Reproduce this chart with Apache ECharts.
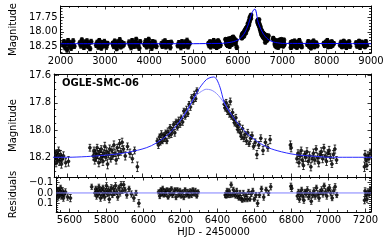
<!DOCTYPE html>
<html><head><meta charset="utf-8">
<script src="https://cdn.jsdelivr.net/npm/echarts@6/dist/echarts.min.js"></script>
<style>html,body{margin:0;padding:0;background:#fff}#c{width:389px;height:241px}</style>
</head><body><div id="c"></div>
<script>
// ---------- zoomed light curve (HJD-2450000, mag, err, residual) ----------
const midT = [
 5531,5535,5538,5541,5545,5548,5552,5556,5560,5563,5567,5571,5578,5590,5605,
 5720,5738,5742,5746,5750,5755,5759,5763,5768,5772,5777,5781,5786,5790,5795,5800,5805,5810,5815,5820,5826,5832,5838,5843,5849,5855,5861,5867,5873,5879,5886,5893,5900,5910,5922,5935,5948,5960,5975,
 6082,6088,6094,6099,6104,6110,6116,6121,6127,6133,6139,6145,6151,6157,6163,6170,6176,6183,6190,6197,6204,6211,6218,6225,6232,6239,6246,6253,6260,6267,6274,6281,6288,6295,
 6442,6447,6452,6458,6463,6469,6474,6480,6486,6492,6498,6504,6510,6516,6522,6528,6534,6540,6547,6554,6561,6568,6575,6583,6591,6599,6608,6617,6627,6638,6650,6663,6676,6688,
 6797,6801,
 6832,6838,6843,6849,6855,6861,6867,6873,6879,6886,6893,6900,6907,6914,6921,6928,6935,6942,6949,6956,6963,6970,6977,6984,6991,6998,7005,7012,7020,7028,7036,7045,
 7195,7198,7203,7208,7213,7219,7226
];
const midM = [
 18.21,18.18,18.24,18.17,18.22,18.19,18.15,18.23,18.20,18.18,18.25,18.21,18.19,18.24,18.23,
 18.13,18.19,18.15,18.22,18.17,18.20,18.13,18.18,18.24,18.16,18.21,18.14,18.19,18.23,18.17,18.12,18.20,18.16,18.25,18.18,18.14,18.21,18.15,18.19,18.11,18.17,18.22,18.13,18.18,18.10,18.16,18.09,18.14,18.19,18.12,18.17,18.21,18.15,18.27,
 18.08,18.11,18.05,18.09,18.03,18.08,18.04,18.06,18.02,18.08,18.01,18.04,17.98,18.03,18.00,17.96,18.02,17.94,17.98,17.93,17.96,17.91,17.94,17.86,17.90,17.85,17.88,17.81,17.83,17.76,17.79,17.74,17.77,17.71,
 17.81,17.84,17.80,17.86,17.83,17.88,17.79,17.90,17.87,17.92,17.95,17.91,17.97,18.00,17.96,18.02,18.05,17.99,18.06,18.03,18.08,18.02,18.10,18.06,18.04,18.12,18.09,18.18,18.11,18.06,18.15,18.09,18.13,18.07,
 18.11,18.13,
 18.21,18.17,18.24,18.19,18.15,18.22,18.26,18.18,18.20,18.16,18.23,18.19,18.27,18.21,18.17,18.22,18.14,18.20,18.24,18.18,18.16,18.21,18.13,18.19,18.23,18.17,18.15,18.20,18.25,18.18,18.14,18.22,
 18.27,18.18,18.22,18.26,18.19,18.21,18.17
];
const midE = [
 0.03,0.025,0.03,0.025,0.03,0.03,0.025,0.03,0.025,0.03,0.03,0.025,0.03,0.03,0.035,
 0.025,0.03,0.025,0.03,0.025,0.03,0.025,0.03,0.03,0.025,0.03,0.025,0.03,0.03,0.025,0.03,0.025,0.03,0.035,0.025,0.03,0.025,0.03,0.025,0.03,0.025,0.03,0.025,0.03,0.03,0.025,0.03,0.025,0.03,0.025,0.03,0.03,0.025,0.035,
 0.02,0.025,0.02,0.02,0.025,0.02,0.02,0.025,0.02,0.02,0.025,0.02,0.02,0.025,0.02,0.02,0.025,0.02,0.02,0.025,0.02,0.02,0.025,0.02,0.02,0.025,0.02,0.02,0.025,0.02,0.02,0.025,0.02,0.02,
 0.025,0.02,0.025,0.025,0.02,0.025,0.025,0.02,0.025,0.025,0.02,0.025,0.025,0.02,0.025,0.025,0.02,0.025,0.025,0.02,0.025,0.025,0.02,0.025,0.025,0.02,0.025,0.03,0.025,0.025,0.03,0.025,0.025,0.03,
 0.03,0.03,
 0.03,0.025,0.03,0.03,0.025,0.03,0.03,0.025,0.03,0.03,0.025,0.03,0.03,0.025,0.03,0.03,0.025,0.03,0.03,0.025,0.03,0.03,0.025,0.03,0.03,0.025,0.03,0.03,0.025,0.03,0.03,0.025,
 0.035,0.03,0.03,0.03,0.03,0.03,0.03
];
const midR = [
 0.01,-0.02,0.04,-0.03,0.02,-0.01,-0.05,0.03,0.00,-0.02,0.05,0.01,-0.01,0.04,0.05,
 -0.06,0.00,-0.04,0.03,-0.02,0.01,-0.06,-0.01,0.05,-0.03,0.02,-0.05,0.00,0.04,-0.02,-0.07,0.01,-0.03,0.06,-0.01,-0.05,0.02,-0.04,0.00,-0.07,-0.01,0.04,-0.05,0.00,-0.08,-0.02,-0.08,-0.03,0.02,-0.04,0.01,0.05,0.00,0.10,
 -0.01,0.03,-0.03,0.01,-0.04,0.02,-0.02,0.01,-0.03,0.04,-0.02,0.01,-0.04,0.02,0.00,-0.03,0.04,-0.03,0.02,-0.02,0.03,-0.01,0.04,-0.03,0.02,-0.01,0.03,-0.02,0.02,-0.03,0.01,-0.02,0.03,-0.01,
 0.02,0.03,-0.02,0.02,-0.02,0.02,-0.08,0.02,-0.03,0.01,0.03,-0.02,0.03,0.05,0.00,0.05,0.07,0.00,0.06,0.02,0.06,-0.01,0.06,0.01,-0.02,0.06,0.02,0.10,0.02,-0.04,0.04,-0.03,0.00,-0.06,
 -0.065,-0.045,
 0.03,-0.01,0.06,0.01,-0.03,0.03,0.07,-0.01,0.01,-0.03,0.04,0.00,0.08,0.02,-0.02,0.03,-0.05,0.01,0.05,-0.01,-0.03,0.01,-0.07,-0.01,0.03,-0.03,-0.05,0.00,0.05,-0.02,-0.06,0.02,
 0.07,-0.02,0.02,0.06,-0.01,0.01,-0.03
];
// ---------- other observing seasons (full light curve only) ----------
const seasT = [
 2055,2078,2101,2124,2147,2170,2193,2216,2239,2262,2285,2310,
 2435,2458,2481,2504,2527,2550,2573,2596,2619,2642,2665,2690,
 2805,2828,2851,2874,2897,2920,2943,2966,2989,3012,3035,3060,
 3175,3198,3221,3244,3267,3290,3313,3336,3359,3382,3405,3430,
 3545,3568,3591,3614,3637,3660,3683,3706,3729,3752,3775,3795,
 3895,3918,3941,3964,3987,4010,4033,4056,4079,4102,4125,4160,
 4275,4295,4315,4335,4355,4375,4395,4415,4435,4455,4475,4495,
 4645,4668,4691,4714,4737,4760,4783,4806,4829,4852,4875,4910,
 5335,5352,5369,5386,5403,5420,5437,5454,5471,5488,5505,5520,
 7240,7258,7276,7294,7312,7330,7348,7366,7384,7402,7420,7438,
 7565,7585,7605,7625,7645,7665,7685,7705,7725,7745,7765,7790,
 7935,7955,7975,7995,8015,8035,8055,8075,8095,8115,8135,8160,
 8305,8325,8345,8365,8385,8405,8425,8445,8465,8485,8505,8525,
 8665,8687,8709,8731,8753,8775,8797,8819,8841,8863,8885,8905
];
const seasM = [
 18.22,18.17,18.27,18.20,18.31,18.15,18.24,18.19,18.28,18.21,18.16,18.25,
 18.19,18.24,18.14,18.21,18.27,18.18,18.23,18.16,18.25,18.20,18.29,18.17,
 18.23,18.18,18.26,18.15,18.21,18.28,18.19,18.24,18.17,18.22,18.26,18.20,
 18.20,18.25,18.16,18.22,18.29,18.18,18.23,18.14,18.26,18.19,18.24,18.21,
 18.18,18.23,18.27,18.15,18.21,18.25,18.19,18.13,18.24,18.20,18.28,18.17,
 18.22,18.16,18.26,18.19,18.13,18.24,18.20,18.28,18.17,18.23,18.18,18.25,
 18.21,18.25,18.18,18.23,18.16,18.26,18.20,18.24,18.19,18.22,18.27,18.18,
 18.24,18.19,18.22,18.27,18.17,18.21,18.25,18.18,18.23,18.15,18.26,18.20,
 18.20,18.24,18.17,18.26,18.21,18.18,18.23,18.15,18.25,18.19,18.22,18.27,
 18.19,18.23,18.16,18.25,18.20,18.27,18.18,18.22,18.15,18.24,18.21,18.26,
 18.22,18.17,18.25,18.20,18.28,18.18,18.23,18.16,18.26,18.21,18.19,18.24,
 18.20,18.24,18.18,18.22,18.15,18.26,18.21,18.19,18.25,18.17,18.23,18.20,
 18.23,18.18,18.26,18.21,18.16,18.24,18.19,18.27,18.20,18.22,18.17,18.25,
 18.19,18.25,18.21,18.16,18.27,18.22,18.18,18.24,18.20,18.26,18.17,18.23
];
const seasE = [
 0.04,0.035,0.04,0.035,0.04,0.035,0.04,0.035,0.04,0.035,0.04,0.035,
 0.035,0.04,0.035,0.04,0.035,0.04,0.035,0.04,0.035,0.04,0.035,0.04,
 0.04,0.035,0.04,0.035,0.04,0.035,0.04,0.035,0.04,0.035,0.04,0.035,
 0.035,0.04,0.035,0.04,0.035,0.04,0.035,0.04,0.035,0.04,0.035,0.04,
 0.04,0.035,0.04,0.035,0.04,0.035,0.04,0.035,0.04,0.035,0.04,0.035,
 0.035,0.04,0.035,0.04,0.035,0.04,0.035,0.04,0.035,0.04,0.035,0.04,
 0.04,0.035,0.04,0.035,0.04,0.035,0.04,0.035,0.04,0.035,0.04,0.035,
 0.035,0.04,0.035,0.04,0.035,0.04,0.035,0.04,0.035,0.04,0.035,0.04,
 0.03,0.035,0.03,0.035,0.03,0.035,0.03,0.035,0.03,0.035,0.03,0.035,
 0.035,0.03,0.035,0.03,0.035,0.03,0.035,0.03,0.035,0.03,0.035,0.03,
 0.03,0.035,0.03,0.035,0.03,0.035,0.03,0.035,0.03,0.035,0.03,0.035,
 0.035,0.03,0.035,0.03,0.035,0.03,0.035,0.03,0.035,0.03,0.035,0.03,
 0.03,0.035,0.03,0.035,0.03,0.035,0.03,0.035,0.03,0.035,0.03,0.035,
 0.035,0.03,0.035,0.03,0.035,0.03,0.035,0.03,0.035,0.03,0.035,0.03
];
// ---------- models ----------
const modelT = [2000,5000,5528,5600,5700,5800,5900,6000,6050,6100,6150,6200,6240,6280,6300,6320,6345,6365,6385,6400,6420,6440,6460,6480,6500,6520,6540,6560,6580,6600,6620,6650,6680,6710,6750,6800,6850,6900,6950,7000,7100,7230,9000];
const modelM = [18.205,18.205,18.20,18.20,18.195,18.185,18.17,18.14,18.115,18.075,18.02,17.94,17.86,17.76,17.71,17.67,17.63,17.615,17.61,17.625,17.69,17.79,17.845,17.885,17.925,17.96,17.99,18.02,18.045,18.065,18.085,18.11,18.13,18.145,18.16,18.175,18.185,18.19,18.195,18.20,18.20,18.20,18.205];
const model2T = [6200,6240,6280,6300,6320,6345,6370,6390,6410,6430,6450,6480];
const model2M = [17.94,17.86,17.765,17.735,17.715,17.70,17.705,17.72,17.745,17.78,17.82,17.885];
const residLineT = [5528,7230];
const residLineV = [0,0];
// ---------- ticks ----------
const topXTicks = [2000,3000,4000,5000,6000,7000,8000,9000];
const topYTicks = [17.75,18.00,18.25];
const botXTicks = [5600,5800,6000,6200,6400,6600,6800,7000,7200];
const midYTicks = [17.6,17.8,18.0,18.2];
const resYTicks = [-0.1,0.0,0.1];

const FONT = 'DejaVu Sans';
function minorVals(min,max,step,majors){
  const out=[];const k0=Math.ceil(min/step-1e-9),k1=Math.floor(max/step+1e-9);
  for(let k=k0;k<=k1;k++){const v=+(k*step).toFixed(6);if(!majors.some(m=>Math.abs(m-v)<step/10))out.push(v);}
  return out;
}
const fmtRes = v => (v<-1e-9?'\u2212':'')+Math.abs(v).toFixed(1);
const GRIDS = [
 {top:3,h:50,x:[2000,9000],xMaj:topXTicks,xStep:200,y:[17.555,18.365],yMaj:topYTicks,yStep:0.05,xLab:true,yFmt:v=>v.toFixed(2),yName:'Magnitude',yGap:36},
 {top:74,h:103,x:[5528,7230],xMaj:botXTicks,xStep:50,y:[17.588,18.345],yMaj:midYTicks,yStep:0.05,xLab:false,yFmt:v=>v.toFixed(1),yName:'Magnitude',yGap:31},
 {top:177,h:35,x:[5528,7230],xMaj:botXTicks,xStep:50,y:[-0.155,0.185],yMaj:resYTicks,yStep:0.02,xLab:true,yFmt:fmtRes,yName:'Residuals',yGap:33,xName:'HJD - 2450000'}
];
const xAxes=[],yAxes=[];
function mkAxis(isX,g,cfg,pos,major,labels){
  const ext=isX?cfg.x:cfg.y, maj=isX?cfg.xMaj:cfg.yMaj;
  const vals=major?maj:minorVals(ext[0],ext[1],isX?cfg.xStep:cfg.yStep,maj);
  const a={type:'value',gridIndex:g,min:ext[0],max:ext[1],position:pos,
    axisLine:{show:major,onZero:false,lineStyle:{color:'#000',width:1}},
    axisTick:{show:true,inside:true,length:major?3.5:2,customValues:vals,lineStyle:{color:'#000',width:0.8}},
    axisLabel:{show:labels,customValues:vals,margin:3,fontSize:10,fontFamily:FONT,color:'#000',
      formatter:isX?(v=>String(Math.round(v))):cfg.yFmt},
    splitLine:{show:false},splitArea:{show:false}};
  if(!isX)a.inverse=true;
  return a;
}
GRIDS.forEach((cfg,g)=>{
  const xb=mkAxis(true,g,cfg,'bottom',true,cfg.xLab);
  if(cfg.xName){Object.assign(xb,{name:cfg.xName,nameLocation:'middle',nameGap:15,nameTextStyle:{fontSize:10,fontFamily:FONT,color:'#000'}});}
  xAxes.push(xb,mkAxis(true,g,cfg,'bottom',false,false),mkAxis(true,g,cfg,'top',true,false),mkAxis(true,g,cfg,'top',false,false));
  const yl=mkAxis(false,g,cfg,'left',true,true);
  Object.assign(yl,{name:cfg.yName,nameLocation:'middle',nameGap:cfg.yGap,nameTextStyle:{fontSize:10,fontFamily:FONT,color:'#000'}});
  yAxes.push(yl,mkAxis(false,g,cfg,'left',false,false),mkAxis(false,g,cfg,'right',true,false),mkAxis(false,g,cfg,'right',false,false));
});

function makeRender(r,cap,lw,fill){
  return function(params,api){
    const x=api.value(0),y=api.value(1),e=api.value(2);
    const p=api.coord([x,y]),a=api.coord([x,y-e]),b=api.coord([x,y+e]);
    const st={stroke:'#000',lineWidth:lw};
    return {type:'group',children:[
      {type:'line',shape:{x1:p[0],y1:a[1],x2:p[0],y2:b[1]},style:st},
      {type:'line',shape:{x1:p[0]-cap,y1:a[1],x2:p[0]+cap,y2:a[1]},style:st},
      {type:'line',shape:{x1:p[0]-cap,y1:b[1],x2:p[0]+cap,y2:b[1]},style:st},
      {type:'circle',shape:{cx:p[0],cy:p[1],r:r},style:{fill:fill,stroke:'#000',lineWidth:0.6}}
    ]};
  };
}
const topData = seasT.map((t,i)=>[t,seasM[i],seasE[i]]).concat(midT.map((t,i)=>[t,midM[i],midE[i]]));
const midData = midT.map((t,i)=>[t,midM[i],midE[i]]);
const resData = midT.map((t,i)=>[t,midR[i],midE[i]]);
const modelData = modelT.map((t,i)=>[t,modelM[i]]);
const model2Data = model2T.map((t,i)=>[t,model2M[i]]);
const resLine = residLineT.map((t,i)=>[t,residLineV[i]]);

const chart = echarts.init(document.getElementById('c'),null,{renderer:'canvas'});
chart.setOption({
  animation:false,
  backgroundColor:'#fff',
  textStyle:{fontFamily:FONT},
  title:{text:'OGLE-SMC-06',left:62,top:78,padding:0,textStyle:{fontSize:10,fontWeight:'bold',fontFamily:FONT,color:'#000'}},
  grid:GRIDS.map(c=>({left:51,right:18,top:c.top,height:c.h})),
  xAxis:xAxes, yAxis:yAxes,
  series:[
    {type:'custom',xAxisIndex:0,yAxisIndex:0,data:topData,renderItem:makeRender(2.1,1.6,1,'#000'),encode:{x:0,y:1},z:2,clip:true},
    {type:'line',xAxisIndex:0,yAxisIndex:0,data:modelData,showSymbol:false,smooth:0.3,lineStyle:{color:'#0000ff',width:1},z:3},
    {type:'custom',xAxisIndex:4,yAxisIndex:4,data:midData,renderItem:makeRender(1.5,1.3,0.8,'#222'),encode:{x:0,y:1},z:2,clip:true},
    {type:'line',xAxisIndex:4,yAxisIndex:4,data:model2Data,showSymbol:false,smooth:0.3,lineStyle:{color:'#8c8cff',width:1},z:3},
    {type:'line',xAxisIndex:4,yAxisIndex:4,data:modelData,showSymbol:false,smooth:0.3,lineStyle:{color:'#2a2aff',width:1},z:4},
    {type:'custom',xAxisIndex:8,yAxisIndex:8,data:resData,renderItem:makeRender(1.5,1.3,0.8,'#222'),encode:{x:0,y:1},z:2,clip:true},
    {type:'line',xAxisIndex:8,yAxisIndex:8,data:resLine,showSymbol:false,lineStyle:{color:'#7f7fff',width:1},z:3}
  ]
});
</script></body></html>
